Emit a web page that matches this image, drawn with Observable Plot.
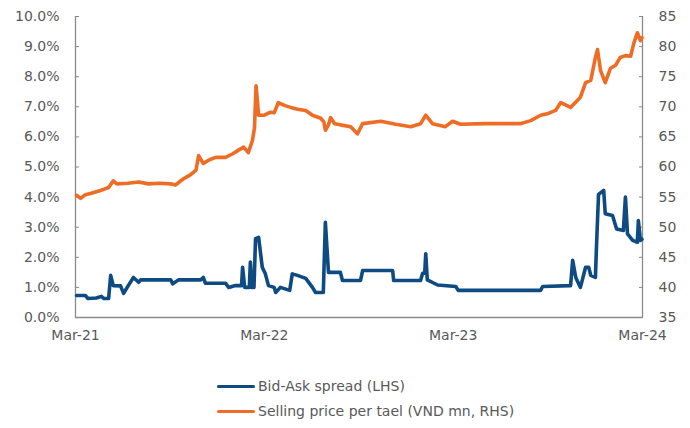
<!DOCTYPE html>
<html><head><meta charset="utf-8">
<script src="https://cdn.jsdelivr.net/npm/d3@7"></script>
<script src="https://cdn.jsdelivr.net/npm/@observablehq/plot@0.6"></script>
<style>
body{margin:0;background:#fff;font-family:"DejaVu Sans",sans-serif;}
#chart{width:690px;height:428px;position:relative;overflow:hidden}
#chart svg{position:absolute;left:0;top:0}
.leg{position:absolute;left:217px;font-size:14px;color:#595959;display:flex;align-items:center;height:18px;line-height:18px;white-space:nowrap}
.leg .sw{display:inline-block;width:38px;height:3px;margin-right:3px;border-radius:2px}
</style></head><body><div id="chart"></div>
<script>
// X axis tick dates and labels
const xTickDates = ["2021-03-01","2022-03-01","2023-03-01","2024-03-01"];
const xTickLabels = ["Mar-21","Mar-22","Mar-23","Mar-24"];
// Left axis (bid-ask spread, %) ticks
const leftTicks = [0,1,2,3,4,5,6,7,8,9,10];
// Right axis (VND mn per tael) ticks
const rightTicks = [35,40,45,50,55,60,65,70,75,80,85];

// Bid-Ask spread (LHS), %
const spreadDates = ["2021-03-03","2021-03-20","2021-03-25","2021-04-10","2021-04-20","2021-04-25","2021-05-04","2021-05-08","2021-05-13","2021-05-27","2021-06-02","2021-06-11","2021-06-21","2021-07-01","2021-07-05","2021-09-01","2021-09-05","2021-09-16","2021-10-29","2021-11-03","2021-11-07","2021-12-16","2021-12-22","2022-01-04","2022-01-16","2022-01-18","2022-01-22","2022-01-31","2022-02-02","2022-02-05","2022-02-09","2022-02-12","2022-02-18","2022-02-25","2022-03-03","2022-03-09","2022-03-20","2022-03-23","2022-04-01","2022-04-19","2022-04-24","2022-05-04","2022-05-20","2022-06-02","2022-06-08","2022-06-23","2022-06-27","2022-07-03","2022-07-26","2022-07-30","2022-09-03","2022-09-07","2022-11-04","2022-11-06","2022-12-28","2023-01-01","2023-01-05","2023-01-07","2023-01-10","2023-01-30","2023-03-06","2023-03-11","2023-08-17","2023-08-21","2023-10-14","2023-10-18","2023-10-24","2023-11-02","2023-11-12","2023-11-18","2023-11-22","2023-12-01","2023-12-03","2023-12-07","2023-12-17","2023-12-20","2024-01-03","2024-01-11","2024-01-24","2024-01-28","2024-02-01","2024-02-11","2024-02-20","2024-02-22","2024-02-26","2024-02-29"];
const spreadValues = [0.73,0.73,0.63,0.65,0.70,0.63,0.63,1.40,1.06,1.05,0.80,1.06,1.33,1.17,1.25,1.25,1.12,1.25,1.25,1.33,1.14,1.14,1.00,1.06,1.06,1.67,1.00,1.00,1.84,1.00,1.00,2.62,2.66,1.67,1.45,1.06,1.00,0.83,1.00,0.90,1.45,1.40,1.30,1.00,0.83,0.83,3.16,1.50,1.50,1.23,1.23,1.56,1.56,1.23,1.23,1.47,1.47,2.12,1.25,1.08,1.03,0.90,0.90,1.03,1.06,1.90,1.33,1.00,1.67,1.67,1.40,1.33,2.33,4.09,4.22,3.45,3.39,2.94,2.89,4.00,2.78,2.56,2.50,3.22,2.56,2.60];

// Selling price per tael (VND mn, RHS)
const priceDates = ["2021-03-03","2021-03-11","2021-03-20","2021-03-30","2021-04-15","2021-05-04","2021-05-13","2021-05-20","2021-06-10","2021-07-01","2021-07-20","2021-08-10","2021-09-01","2021-09-10","2021-09-25","2021-10-09","2021-10-20","2021-10-25","2021-11-03","2021-11-15","2021-11-27","2021-12-16","2021-12-30","2022-01-10","2022-01-20","2022-01-29","2022-02-06","2022-02-10","2022-02-13","2022-02-18","2022-03-01","2022-03-13","2022-03-20","2022-03-28","2022-04-10","2022-04-21","2022-05-04","2022-05-20","2022-06-02","2022-06-18","2022-06-24","2022-06-27","2022-07-03","2022-07-07","2022-07-15","2022-07-26","2022-08-15","2022-08-28","2022-09-07","2022-10-12","2022-11-10","2022-12-09","2022-12-28","2023-01-07","2023-01-20","2023-02-14","2023-02-28","2023-03-15","2023-05-01","2023-07-09","2023-07-29","2023-08-17","2023-09-01","2023-09-15","2023-09-25","2023-10-14","2023-11-02","2023-11-12","2023-11-22","2023-12-01","2023-12-05","2023-12-11","2023-12-20","2023-12-30","2024-01-09","2024-01-18","2024-01-28","2024-02-07","2024-02-13","2024-02-20","2024-02-26","2024-02-29"];
const priceValues = [55.3,54.8,55.4,55.6,56.0,56.6,57.7,57.2,57.3,57.5,57.2,57.3,57.2,57.0,58.0,58.7,59.5,61.9,60.6,61.2,61.6,61.6,62.2,62.8,63.3,62.4,64.4,66.5,73.5,68.6,68.6,69.1,69.0,70.7,70.2,69.9,69.6,69.4,68.6,68.1,67.5,66.1,67.0,68.2,67.2,67.0,66.7,65.5,67.2,67.6,67.1,66.7,67.2,68.6,67.2,66.7,67.6,67.1,67.2,67.2,67.7,68.6,68.9,69.4,70.7,69.9,71.6,74.0,74.4,78.2,79.5,76.0,74.0,76.4,76.9,78.2,78.5,78.4,80.5,82.3,81.0,81.5];

const parse = d3.utcParse("%Y-%m-%d");
const spread = spreadDates.map((d,i)=>({date:parse(d), value:spreadValues[i]}));
// price drawn against the left scale: 35..85 -> 0..10
const toLeft = p => (p - 35) / 5;
const price = priceDates.map((d,i)=>({date:parse(d), value:toLeft(priceValues[i])}));
const xTicks = xTickDates.map(parse);
const xLabel = new Map(xTicks.map((d,i)=>[+d, xTickLabels[i]]));
const rightLabel = new Map(rightTicks.map(p=>[toLeft(p), String(p)]));
const axisColor = "#8a8a8a";
const x0 = xTicks[0], x1 = xTicks[xTicks.length-1];

const chart = Plot.plot({
  width: 690, height: 355,
  marginLeft: 75, marginRight: 48, marginTop: 16, marginBottom: 38,
  style: {fontFamily: "DejaVu Sans", fontSize: "14px", color: "#595959", background: "#fff", overflow: "visible"},
  x: {type: "utc", domain: [x0, x1]},
  y: {domain: [0, 10]},
  marks: [
    Plot.axisX({ticks: xTicks, tickFormat: d => xLabel.get(+d), tickSize: 0, tickPadding: 13, label: null}),
    Plot.axisY({anchor: "left", ticks: leftTicks, tickFormat: d => d.toFixed(1) + "%", tickSize: -4, tickPadding: 20, stroke: axisColor, label: null}),
    Plot.axisY({anchor: "right", ticks: leftTicks, tickFormat: d => rightLabel.get(d), tickSize: -4, tickPadding: 20, stroke: axisColor, label: null}),
    Plot.ruleX([x0, x1], {stroke: axisColor, strokeWidth: 1.3}),
    Plot.ruleY([0], {stroke: axisColor, strokeWidth: 1.3}),
    Plot.line(spread, {x: "date", y: "value", stroke: "#0d4b82", strokeWidth: 3.6, strokeLinejoin: "round", strokeLinecap: "round"}),
    Plot.line(price, {x: "date", y: "value", stroke: "#ef6c25", strokeWidth: 3.6, strokeLinejoin: "round", strokeLinecap: "round"})
  ]
});
const root = document.getElementById("chart");
root.appendChild(chart);
const legendItems = [["Bid-Ask spread (LHS)", "#0d4b82", 377], ["Selling price per tael (VND mn, RHS)", "#ef6c25", 402]];
for (const [t, c, top] of legendItems) {
  const div = document.createElement("div");
  div.className = "leg";
  div.style.top = top + "px";
  div.innerHTML = `<span class="sw" style="background:${c}"></span><span></span>`;
  div.lastChild.textContent = t;
  root.appendChild(div);
}
</script></body></html>
